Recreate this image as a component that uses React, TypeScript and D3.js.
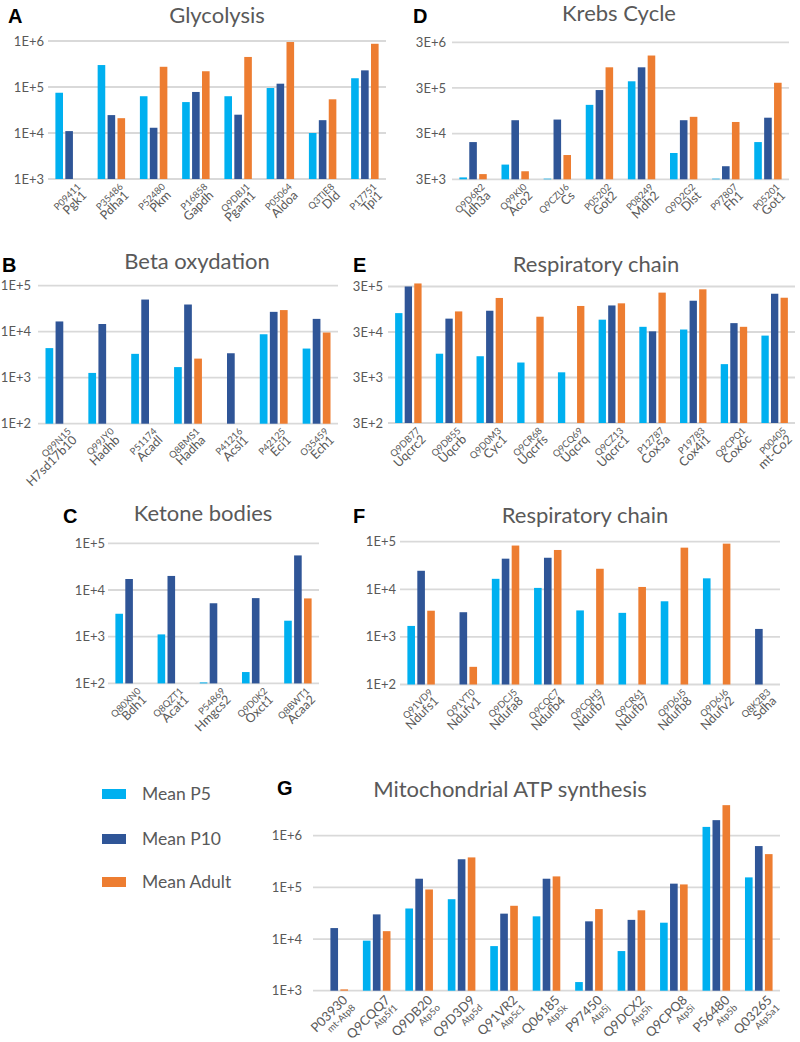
import React from 'react';
import * as d3 from 'd3';

type Val = number | null;

const SERIES = ['Mean P5', 'Mean P10', 'Mean Adult'];
const SERIES_COLORS = ['#00B0F0', '#2F5597', '#ED7D31'];

// ---------- A: Glycolysis ----------
const glyAcc = ['P09411', 'P35486', 'P52480', 'P16858', 'Q9DBJ1', 'P05064', 'Q3TIE8', 'P17751'];
const glyGene = ['Pgk1', 'Pdha1', 'Pkm', 'Gapdh', 'Pgam1', 'Aldoa', 'Dld', 'Tpi1'];
const glyP5: Val[] = [75000, 300000, 63000, 47000, 63000, 95000, 10000, 155000];
const glyP10: Val[] = [11000, 24500, 13000, 78000, 25000, 118000, 19000, 230000];
const glyAdult: Val[] = [null, 21000, 275000, 220000, 450000, 950000, 54000, 870000];

// ---------- D: Krebs cycle ----------
const krebsAcc = ['Q9D6R2', 'Q99KI0', 'Q9CZU6', 'P05202', 'P08249', 'Q9D2G2', 'P97807', 'P05201'];
const krebsGene = ['Idh3a', 'Aco2', 'Cs', 'Got2', 'Mdh2', 'Dlst', 'Fh1', 'Got1'];
const krebsP5: Val[] = [3300, 6300, 3100, 128000, 420000, 11300, 3100, 19600];
const krebsP10: Val[] = [19600, 59000, 61000, 270000, 850000, 59000, 5800, 67000];
const krebsAdult: Val[] = [3900, 4500, 10200, 850000, 1540000, 70000, 54000, 390000];

// ---------- B: Beta oxydation ----------
const betaAcc = ['Q99N15', 'Q99JY0', 'P51174', 'Q8BMS1', 'P41216', 'P42125', 'O35459'];
const betaGene = ['H7sd17b10', 'Hadhb', 'Acadl', 'Hadha', 'Acsl1', 'Eci1', 'Ech1'];
const betaP5: Val[] = [4400, 1270, 3300, 1700, null, 8800, 4300];
const betaP10: Val[] = [16700, 14700, 50000, 39000, 3400, 27000, 19000];
const betaAdult: Val[] = [null, null, null, 2600, null, 29500, 9600];

// ---------- E: Respiratory chain ----------
const respAcc = ['Q9DB77', 'Q9D855', 'Q9D0M3', 'Q9CR68', 'Q9CQ69', 'Q9CZ13', 'P12787', 'P19783', 'Q9CPQ1', 'P00405'];
const respGene = ['Uqcrc2', 'Uqcrb', 'Cyc1', 'Uqcrfs', 'Uqcrq', 'Uqcrc1', 'Cox5a', 'Cox4i1', 'Cox6c', 'mt-Co2'];
const respP5: Val[] = [78000, 10000, 8800, 6400, 3900, 56000, 39000, 34000, 5900, 25000];
const respP10: Val[] = [300000, 59000, 88000, null, null, 115000, 31000, 146000, 47000, 208000];
const respAdult: Val[] = [350000, 85000, 168000, 65000, 112000, 128000, 220000, 260000, 39000, 170000];

// ---------- C: Ketone bodies ----------
const ketAcc = ['Q80XN0', 'Q8QZT1', 'P54869', 'Q9D0K2', 'Q8BWT1'];
const ketGene = ['Bdh1', 'Acat1', 'Hmgcs2', 'Oxct1', 'Acaa2'];
const ketP5: Val[] = [3100, 1120, 105, 175, 2200];
const ketP10: Val[] = [17200, 20000, 5200, 6700, 55000];
const ketAdult: Val[] = [null, null, null, null, 6600];

// ---------- F: Respiratory chain (complex I / II) ----------
const ndAcc = ['Q91VD9', 'Q91YT0', 'Q9DCJ5', 'Q9CQC7', 'Q9CQH3', 'Q9CR61', 'Q9D6J5', 'Q9D6J6', 'Q8K2B3'];
const ndGene = ['Ndufs1', 'Ndufv1', 'Ndufa8', 'Ndufb4', 'Ndufb7', 'Ndufb7', 'Ndufb8', 'Ndufv2', 'Sdha'];
const ndP5: Val[] = [1700, null, 16600, 10700, 3600, 3200, 5600, 17000, null];
const ndP10: Val[] = [24500, 3300, 44000, 46000, null, null, null, null, 1470];
const ndAdult: Val[] = [3550, 235, 83000, 67000, 27000, 11200, 75000, 91000, null];

// ---------- G: Mitochondrial ATP synthesis ----------
const atpAcc = ['P03930', 'Q9CQQ7', 'Q9DB20', 'Q9D3D9', 'Q91VR2', 'Q06185', 'P97450', 'Q9DCX2', 'Q9CPQ8', 'P56480', 'Q03265'];
const atpGene = ['mt-Atp8', 'Atp5f1', 'Atp5o', 'Atp5d', 'Atp5c1', 'Atp5k', 'Atp5j', 'Atp5h', 'Atp5i', 'Atp5b', 'Atp5a1'];
const atpP5: Val[] = [null, 9300, 39000, 59000, 7300, 27500, 1470, 5850, 20700, 1480000, 156000];
const atpP10: Val[] = [16300, 30000, 147000, 350000, 31000, 147000, 22000, 23500, 118000, 2000000, 630000];
const atpAdult: Val[] = [1060, 14200, 91000, 380000, 44000, 163000, 38000, 36000, 114000, 3900000, 440000];

// ---------- axis ticks ----------
const ticks1e3 = [1e3, 1e4, 1e5, 1e6];
const ticks1e3Labels = ['1E+3', '1E+4', '1E+5', '1E+6'];
const ticks3e3 = [3e3, 3e4, 3e5, 3e6];
const ticks3e3Labels = ['3E+3', '3E+4', '3E+5', '3E+6'];
const ticks1e2 = [1e2, 1e3, 1e4, 1e5];
const ticks1e2Labels = ['1E+2', '1E+3', '1E+4', '1E+5'];
const ticks3e2 = [3e2, 3e3, 3e4, 3e5];
const ticks3e2Labels = ['3E+2', '3E+3', '3E+4', '3E+5'];

interface PanelCfg {
  letter: string;
  title: string;
  letterX: number;
  letterY: number;
  titleX: number;
  titleY: number;
  x0: number;
  x1: number;
  yTop: number;
  yBot: number;
  ticks: number[];
  tickLabels: string[];
  tickGap: number;
  acc: string[];
  gene: string[];
  values: Val[][];
  bigAcc?: boolean;
}

const FONT = "Lato, 'Open Sans', 'Noto Sans', sans-serif";
const GREY = '#595959';
const GRID = '#D9D9D9';

const panels: PanelCfg[] = [
  { letter: 'A', title: 'Glycolysis', letterX: 8, letterY: 23, titleX: 217, titleY: 23,
    x0: 48, x1: 386, yTop: 41, yBot: 179, ticks: ticks1e3, tickLabels: ticks1e3Labels, tickGap: 4,
    acc: glyAcc, gene: glyGene, values: [glyP5, glyP10, glyAdult] },
  { letter: 'D', title: 'Krebs Cycle', letterX: 413, letterY: 23, titleX: 619, titleY: 21,
    x0: 452, x1: 789, yTop: 42.3, yBot: 179.3, ticks: ticks3e3, tickLabels: ticks3e3Labels, tickGap: 6,
    acc: krebsAcc, gene: krebsGene, values: [krebsP5, krebsP10, krebsAdult] },
  { letter: 'B', title: 'Beta oxydation', letterX: 2, letterY: 272, titleX: 197, titleY: 269,
    x0: 38, x1: 338, yTop: 285.7, yBot: 423.7, ticks: ticks1e2, tickLabels: ticks1e2Labels, tickGap: 7,
    acc: betaAcc, gene: betaGene, values: [betaP5, betaP10, betaAdult] },
  { letter: 'E', title: 'Respiratory chain', letterX: 353, letterY: 272, titleX: 596, titleY: 271.5,
    x0: 388, x1: 795, yTop: 286.5, yBot: 423, ticks: ticks3e2, tickLabels: ticks3e2Labels, tickGap: 5,
    acc: respAcc, gene: respGene, values: [respP5, respP10, respAdult] },
  { letter: 'C', title: 'Ketone bodies', letterX: 63, letterY: 523, titleX: 203, titleY: 521,
    x0: 108, x1: 319, yTop: 543.3, yBot: 683.4, ticks: ticks1e2, tickLabels: ticks1e2Labels, tickGap: 3,
    acc: ketAcc, gene: ketGene, values: [ketP5, ketP10, ketAdult] },
  { letter: 'F', title: 'Respiratory chain', letterX: 353, letterY: 523, titleX: 585, titleY: 522.5,
    x0: 400, x1: 780, yTop: 541.7, yBot: 684.5, ticks: ticks1e2, tickLabels: ticks1e2Labels, tickGap: 4,
    acc: ndAcc, gene: ndGene, values: [ndP5, ndP10, ndAdult] },
  { letter: 'G', title: 'Mitochondrial ATP synthesis', letterX: 277, letterY: 795, titleX: 510, titleY: 796.5,
    x0: 313, x1: 780, yTop: 835.7, yBot: 990.7, ticks: ticks1e3, tickLabels: ticks1e3Labels, tickGap: 11,
    acc: atpAcc, gene: atpGene, values: [atpP5, atpP10, atpAdult], bigAcc: true },
];

function Panel({ cfg }: { cfg: PanelCfg }) {
  const n = cfg.acc.length;
  const x = d3.scaleBand<number>().domain(d3.range(n)).range([cfg.x0, cfg.x1]).paddingInner(0).paddingOuter(0);
  const b = x.bandwidth();
  const inner = d3.scaleBand<number>().domain([0, 1, 2]).range([0.175 * b, 0.825 * b]).paddingInner(0.234).paddingOuter(0);
  const y = d3.scaleLog().domain([cfg.ticks[0], cfg.ticks[cfg.ticks.length - 1]]).range([cfg.yBot, cfg.yTop]);
  const smallFs = 9.5;
  const bigFs = 12.5;
  const fs1 = cfg.bigAcc ? 13 : smallFs;
  const fs2 = cfg.bigAcc ? 9.5 : bigFs;
  const y1 = fs1 * 0.78;
  const y2 = y1 + 10.5;
  return (
    <g>
      <text x={cfg.letterX} y={cfg.letterY} fontFamily="'Liberation Sans', Arial, sans-serif" fontWeight="bold" fontSize={20} fill="#000">{cfg.letter}</text>
      <text x={cfg.titleX} y={cfg.titleY} textAnchor="middle" fontFamily={FONT} fontSize={22} fill={GREY}>{cfg.title}</text>
      {cfg.ticks.map((t, i) => (
        <g key={'t' + i}>
          <line x1={cfg.x0} x2={cfg.x1} y1={y(t)} y2={y(t)} stroke={GRID} strokeWidth={1.8} />
          <text x={cfg.x0 - cfg.tickGap} y={y(t)} dy="0.35em" textAnchor="end" fontFamily={FONT} fontSize={13} fill={GREY}>{cfg.tickLabels[i]}</text>
        </g>
      ))}
      {cfg.values.map((ser, s) => ser.map((v, i) => {
        if (v == null) return null;
        const top = y(v);
        return <rect key={`b${s}-${i}`} x={(x(i) as number) + (inner(s) as number)} width={inner.bandwidth()} y={top} height={Math.max(0, cfg.yBot - top)} fill={SERIES_COLORS[s]} />;
      }))}
      {cfg.acc.map((a, i) => {
        const c = (x(i) as number) + b / 2;
        return (
          <g key={'l' + i} transform={`translate(${c + 7},${cfg.yBot + 3}) rotate(-45)`}>
            <text x={0} y={y1} textAnchor="end" fontFamily={FONT} fontSize={fs1} fill={GREY}>{a}</text>
            <text x={cfg.bigAcc ? 0 : -2} y={y2} textAnchor="end" fontFamily={FONT} fontSize={fs2} fill={GREY}>{cfg.gene[i]}</text>
          </g>
        );
      })}
    </g>
  );
}

const legendLayout = { swatchX: 102, textX: 142, ys: [794, 839, 882], w: 24, h: 10 };

export default function App() {
  return (
    <svg width={800} height={1042} style={{ position: 'absolute', left: 0, top: 0, background: '#fff' }}>
      <rect width={800} height={1042} fill="#fff" />
      {panels.map((p) => <Panel key={p.letter} cfg={p} />)}
      {SERIES.map((s, i) => (
        <g key={s}>
          <rect x={legendLayout.swatchX} y={legendLayout.ys[i] - legendLayout.h / 2} width={legendLayout.w} height={legendLayout.h} fill={SERIES_COLORS[i]} />
          <text x={legendLayout.textX} y={legendLayout.ys[i]} dy="0.36em" fontFamily={FONT} fontSize={17.5} fill={GREY}>{s}</text>
        </g>
      ))}
    </svg>
  );
}
